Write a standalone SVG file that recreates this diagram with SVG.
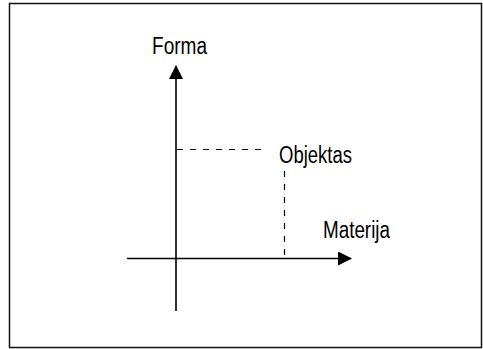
<svg xmlns="http://www.w3.org/2000/svg" width="483" height="349" viewBox="0 0 483 349">
  <style>
    .lbl { font-family: "Liberation Sans", Arial, sans-serif; font-size: 23px; fill: #000; }
    .axis { stroke: #333; stroke-width: 2; fill: none; }
    .haxis { stroke: #000; stroke-width: 1.5; fill: none; }
    .dash { stroke: #000; stroke-width: 1.2; stroke-dasharray: 6 7; fill: none; }
  </style>
  <defs>
    <marker id="arr" viewBox="0 0 14 14" refX="13" refY="7" markerWidth="14" markerHeight="14" markerUnits="userSpaceOnUse" orient="auto">
      <path d="M0,0 L14,7 L0,14 Z" fill="#000"/>
    </marker>
  </defs>
  <rect x="9.5" y="3.5" width="472" height="344" fill="#fff" stroke="#111" stroke-width="1.5"/>
  <g id="connectors">
    <line class="axis" x1="176" y1="311" x2="176" y2="66" marker-end="url(#arr)"/>
    <line class="haxis" x1="127" y1="258.5" x2="351" y2="258.5" marker-end="url(#arr)"/>
    <line class="dash" x1="177" y1="149.5" x2="261" y2="149.5"/>
    <line class="dash" x1="284.5" y1="171" x2="284.5" y2="258"/>
  </g>
  <g id="forma"><text class="lbl" x="152" y="53.5" textLength="55" lengthAdjust="spacingAndGlyphs">Forma</text></g>
  <g id="objektas"><text class="lbl" x="279" y="162.5" textLength="73" lengthAdjust="spacingAndGlyphs">Objektas</text></g>
  <g id="materija"><text class="lbl" x="323" y="237.5" textLength="67" lengthAdjust="spacingAndGlyphs">Materija</text></g>
</svg>
